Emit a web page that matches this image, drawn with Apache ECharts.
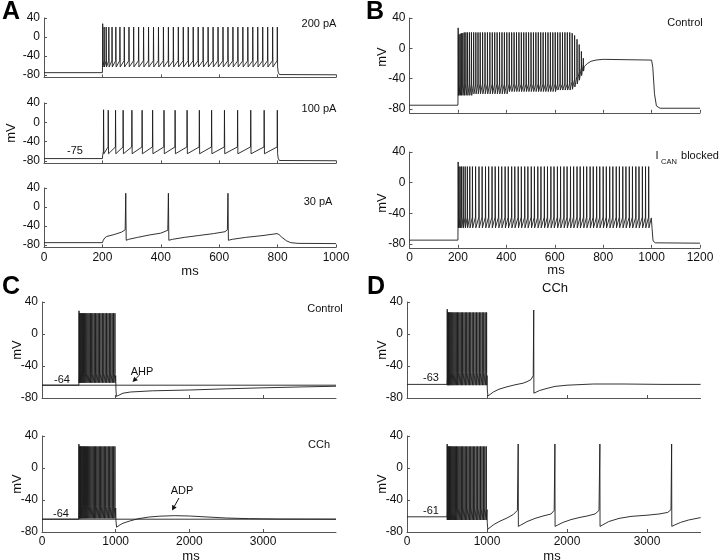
<!DOCTYPE html>
<html>
<head>
<meta charset="utf-8">
<script src="https://cdn.jsdelivr.net/npm/echarts@6/dist/echarts.min.js"></script>
<style>
html, body { margin: 0; padding: 0; background: #fff; }
#chart { width: 720px; height: 560px; }
</style>
</head>
<body>
<div id="chart"></div>
<script>
const FONT = '"Liberation Sans", Arial, Helvetica, sans-serif';
const INK = '#111';
const AXIS = '#555';

// tick values
const aXTicks = [0, 200, 400, 600, 800, 1000];
const bXTicks = [0, 200, 400, 600, 800, 1000, 1200];
const cdXTicks = [0, 1000, 2000, 3000];
const mvTicks = [-80, -40, 0, 40];

// ---------- A, 200 pA ----------
const a200Spikes = [201, 206, 213, 222, 233, 246, 260, 275, 291, 307, 324, 341, 358, 375, 392, 409, 426, 443, 460,
  477, 494, 511, 528, 545, 562, 579, 596, 613, 630, 647, 664, 681, 698, 715, 732, 749, 766, 783, 799];
const a200Before = [[0, -75], [200, -75]];
const a200After = [[800.5, -60], [802, -74], [806, -79], [1000, -79.5]];

// ---------- A, 100 pA ----------
const a100Spikes = [204, 220, 245, 271, 301, 336, 372, 411, 449, 490, 532, 574, 618, 663, 708, 754, 799];
const a100Before = [[0, -75], [200, -75], [201, -68]];
const a100After = [[800.5, -62], [802, -74], [806, -79], [1000, -79.5]];

// ---------- A, 30 pA (whole trace) ----------
const a30Trace = [[0, -75], [200, -75], [203, -70], [208, -65], [215, -62], [240, -58], [265, -53], [278, -48],
  [280, 29], [281.5, -70], [290, -68], [320, -64], [360, -59], [400, -55], [424, -49],
  [426, 29], [427.5, -70], [440, -68], [480, -64], [530, -60], [580, -56], [620, -52], [628, -48],
  [630, 29], [631.5, -70], [645, -68], [690, -64], [750, -60], [798, -56], [805, -58], [815, -64],
  [830, -71], [845, -75], [870, -76.5], [1000, -77]];

// ---------- B, control ----------
const b1Spikes = [201, 204, 209, 214, 220, 226, 233, 240, 248, 256, 265, 274, 283, 292, 302, 312, 322, 332, 342, 352,
  362, 372, 382, 392, 402, 412, 422, 432, 442, 452, 462, 472, 482, 492, 502, 512, 522, 532, 542, 552,
  562, 572, 582, 592, 602, 612, 622, 632, 642, 652, 662, 672, 682, 692, 701, 710, 718];
const b1Peaks = [27, 18, 19, 20, 20, 21, 21, 21, 21, 21, 21, 21, 21, 21, 21, 21, 21, 21, 21, 21,
  21, 21, 21, 21, 21, 21, 21, 21, 21, 21, 21, 21, 21, 21, 21, 21, 21, 21, 21, 21,
  21, 21, 21, 21, 21, 21, 21, 21, 21, 21, 21, 20, 17, 12, 5, -4, -13];
const b1Troughs = [-62, -62, -62, -62, -62, -62, -62, -62, -62, -62, -60, -60, -60, -60, -60, -60, -60, -60, -60, -60,
  -60, -60, -60, -60, -60, -57, -57, -57, -57, -57, -57, -57, -57, -57, -57, -57, -57, -57, -57, -57,
  -57, -57, -57, -57, -57, -55, -55, -55, -55, -55, -55, -54, -51, -47, -42, -36, -30];
const b1Thr = [-60, -47, -47, -47, -47, -47, -47, -47, -47, -47, -47, -47, -47, -47, -47, -47, -47, -47, -47, -47,
  -47, -47, -47, -47, -47, -47, -47, -47, -47, -47, -47, -47, -47, -47, -47, -47, -47, -47, -47, -47,
  -47, -47, -47, -47, -47, -47, -47, -47, -47, -47, -47, -44, -41, -37, -31, -25, -21];
const b1Before = [[0, -75], [200, -75]];
const b1After = [[722, -24], [735, -20], [750, -17], [770, -15.5], [800, -14.5], [1000, -15.5], [1005, -25],
  [1012, -60], [1020, -76], [1035, -79], [1200, -79]];

// ---------- B, I_CAN blocked ----------
const b2Spikes = [201, 204, 209, 215, 222, 230, 239, 249, 260, 273, 287, 300, 314, 327, 341, 354, 368, 381, 395, 408,
  422, 435, 449, 462, 476, 489, 503, 516, 530, 543, 557, 570, 584, 597, 611, 624, 638, 651, 665, 678,
  692, 705, 719, 732, 746, 759, 773, 786, 800, 813, 827, 840, 854, 867, 881, 894, 908, 921, 935, 948,
  962, 975, 988];
const b2Before = [[0, -75], [200, -75]];
const b2After = [[999, -46], [1002, -60], [1006, -76], [1015, -78.5], [1200, -79]];

// ---------- C, control ----------
const c1Spikes = [502, 509, 518, 528, 539, 551, 564, 578, 593, 608, 624, 640, 657, 674, 691, 709, 727, 745, 763, 781,
  800, 819, 838, 857, 876, 895, 914, 933, 952, 971, 990];
const c1Before = [[0, -64], [500, -64]];
const c1After = [[1000, -52], [1004, -70], [1010, -78], [1030, -76.5], [1100, -74], [1200, -72.5], [1500, -71],
  [2000, -70], [2500, -68.5], [3000, -67.3], [3500, -66.2], [3990, -65.3]];
const cRest = -64;

// ---------- C, CCh ----------
const c2Spikes = [501, 507, 514, 522, 531, 541, 552, 564, 577, 590, 604, 618, 633, 648, 663, 679, 695, 711, 727, 744,
  761, 778, 795, 812, 829, 846, 864, 882, 900, 918, 936, 954, 972, 990];
const c2Before = [[0, -64], [500, -64]];
const c2After = [[1000, -50], [1004, -66], [1012, -74], [1030, -73], [1060, -71], [1100, -69], [1200, -66],
  [1300, -63.5], [1450, -61.3], [1600, -60.2], [1800, -59.6], [2000, -60], [2200, -61], [2500, -62.5],
  [2800, -63.3], [3200, -63.8], [3990, -64]];

// ---------- D, CCh upper ----------
const d1Spikes = [503, 510, 518, 527, 537, 548, 560, 573, 587, 601, 616, 631, 647, 663, 679, 695, 712, 729, 746, 763,
  780, 797, 815, 833, 851, 869, 887, 905, 923, 941, 959, 977, 995];
const d1Before = [[0, -63], [500, -63]];
const d1After = [[1000, -52], [1004, -70], [1012, -77.5], [1035, -76], [1080, -72.5], [1150, -69], [1250, -66],
  [1350, -63.5], [1450, -61.5], [1500, -59.6], [1550, -57], [1578, -52], [1584, 30], [1586, -74], [1610, -73],
  [1660, -70.5], [1750, -68], [1850, -65.5], [2000, -64], [2330, -62.5], [2700, -62.5], [3200, -63], [3670, -63]];

// ---------- D, CCh lower ----------
const d2Spikes = [502, 508, 515, 523, 532, 542, 553, 565, 578, 591, 605, 619, 634, 649, 664, 680, 696, 712, 728, 745,
  762, 779, 796, 813, 830, 847, 865, 883, 901, 919, 937, 955, 973, 991];
const d2Before = [[0, -61], [500, -61]];
const d2After = [[1000, -52], [1003, -68], [1010, -76.5], [1030, -75], [1080, -71], [1150, -67], [1250, -62.5],
  [1330, -58], [1380, -53], [1390, 30], [1392, -73], [1420, -71.5], [1500, -67], [1600, -63], [1700, -60],
  [1800, -57.5], [1840, -53], [1849, 30], [1851, -73], [1880, -71.5], [1950, -68], [2050, -64.5], [2150, -62],
  [2250, -60], [2350, -57.5], [2400, -53], [2411, 30], [2413, -73], [2440, -71.5], [2520, -67], [2650, -63],
  [2800, -60.5], [3000, -59], [3150, -57.5], [3260, -55.5], [3300, -52], [3308, 30], [3310, -73], [3340, -71.5],
  [3420, -68], [3520, -65], [3670, -62]];

function pick(v, i) { return Array.isArray(v) ? v[i] : v; }

// spike train: ramp to threshold, spike to peak, fall to trough
function train(before, spikes, sp, after) {
  const pts = before.map(p => [p[0], p[1]]);
  spikes.forEach((t, i) => {
    const thr = i === 0 ? sp.thr0 : pick(sp.thr, i);
    const peak = i === 0 ? sp.first : pick(sp.peak, i);
    pts.push([t - 0.6, thr], [t, peak], [t + 1, pick(sp.trough, i)]);
  });
  return pts.concat(after);
}

const panels = [
  { left: 44, top: 18, width: 292, height: 59.4, xmax: 1000, xt: aXTicks, xl: false, ymin: -85 },
  { left: 44, top: 103, width: 292, height: 60.4, xmax: 1000, xt: aXTicks, xl: false, ymin: -85 },
  { left: 44, top: 188, width: 292, height: 59.4, xmax: 1000, xt: aXTicks, xl: true, ymin: -85 },
  { left: 409.5, top: 18, width: 290.5, height: 94.8, xmax: 1200, xt: bXTicks, xl: false, ymin: -85 },
  { left: 409.5, top: 152, width: 290.5, height: 95.8, xmax: 1200, xt: bXTicks, xl: true, ymin: -85 },
  { left: 42, top: 302, width: 294, height: 96, xmax: 3990, xt: cdXTicks, xl: false, ymin: -80 },
  { left: 42, top: 436, width: 294, height: 96, xmax: 3990, xt: cdXTicks, xl: true, ymin: -80 },
  { left: 407, top: 302, width: 293.6, height: 96, xmax: 3670, xt: cdXTicks, xl: false, ymin: -80 },
  { left: 407, top: 436, width: 293.6, height: 96, xmax: 3670, xt: cdXTicks, xl: true, ymin: -80 }
];

const traces = [
  { p: 0, data: train(a200Before, a200Spikes, { thr0: -60, thr: -50, first: 28, peak: 21, trough: -63 }, a200After) },
  { p: 1, data: train(a100Before, a100Spikes, { thr0: -60, thr: -51, first: 26, peak: 25, trough: -65 }, a100After) },
  { p: 2, data: a30Trace },
  { p: 3, data: train(b1Before, b1Spikes, { thr0: b1Thr[0], thr: b1Thr, first: b1Peaks[0], peak: b1Peaks, trough: b1Troughs }, b1After) },
  { p: 4, data: train(b2Before, b2Spikes, { thr0: -60, thr: -45, first: 27, peak: 21, trough: -59 }, b2After) },
  { p: 5, data: [[0, cRest], [3990, cRest]] },
  { p: 5, data: train(c1Before, c1Spikes, { thr0: -55, thr: -49, first: 29, peak: 26, trough: -61 }, c1After) },
  { p: 6, data: [[0, cRest], [3990, cRest]] },
  { p: 6, data: train(c2Before, c2Spikes, { thr0: -55, thr: -48, first: 30, peak: 27, trough: -63 }, c2After) },
  { p: 7, data: train(d1Before, d1Spikes, { thr0: -55, thr: -48, first: 31, peak: 27, trough: -64 }, d1After) },
  { p: 8, data: train(d2Before, d2Spikes, { thr0: -55, thr: -50, first: 30, peak: 27, trough: -65 }, d2After) }
];

function txt(text, x, y, size, extra) {
  return Object.assign({
    type: 'text', x: x, y: y, silent: true,
    style: { text: text, fontSize: size, fontFamily: FONT, fill: INK, align: 'center', verticalAlign: 'middle' }
  }, extra || {});
}
function bold(text, x, y) {
  const t = txt(text, x, y, 25);
  t.style.fontWeight = 'bold';
  t.style.fill = '#000';
  return t;
}
function vert(text, x, y) { return txt(text, x, y, 13, { rotation: Math.PI / 2 }); }
function arrow(x1, y1, x2, y2) {
  const a = Math.atan2(y2 - y1, x2 - x1), L = 5, W = 2.6;
  const bx = x2 - L * Math.cos(a), by = y2 - L * Math.sin(a);
  return [
    { type: 'line', silent: true, shape: { x1: x1, y1: y1, x2: bx, y2: by }, style: { stroke: INK, lineWidth: 1 } },
    { type: 'polygon', silent: true, shape: { points: [[x2, y2], [bx - W * Math.sin(a), by + W * Math.cos(a)], [bx + W * Math.sin(a), by - W * Math.cos(a)]] }, style: { fill: INK } }
  ];
}

const graphics = [
  bold('A', 11, 12), bold('B', 375, 12), bold('C', 11, 287), bold('D', 376, 287),
  txt('200 pA', 319, 24, 11), txt('100 pA', 319, 109, 11), txt('30 pA', 318, 202, 11), txt('-75', 75, 151, 11),
  vert('mV', 11, 133), txt('ms', 190, 271, 13),
  txt('Control', 685, 23, 11),
  txt('I', 657, 156, 11), txt('CAN', 669, 162, 7.5), txt('blocked', 700, 156, 11),
  vert('mV', 382, 57), vert('mV', 382, 203), txt('ms', 556, 270, 13),
  txt('Control', 325, 309, 11), txt('-64', 62, 380, 11), txt('AHP', 142, 372, 11),
  txt('CCh', 319, 445, 11), txt('-64', 61, 514, 11), txt('ADP', 182, 491, 11),
  vert('mV', 17, 350), vert('mV', 17, 484), txt('ms', 191, 556, 13),
  txt('CCh', 555, 288, 13), txt('-63', 431, 378, 11), txt('-61', 431, 511, 11),
  vert('mV', 382, 350), vert('mV', 382, 484), txt('ms', 552, 556, 13)
].concat(arrow(139.5, 375, 132.5, 382)).concat(arrow(179, 498, 172, 510.5));

const plain = v => String(v);

const chart = echarts.init(document.getElementById('chart'), null, { renderer: 'canvas' });
chart.setOption({
  animation: false,
  backgroundColor: '#fff',
  grid: panels.map(p => ({ left: p.left, top: p.top, width: p.width, height: p.height, containLabel: false, outerBoundsMode: 'none' })),
  xAxis: panels.map((p, i) => ({
    type: 'value', gridIndex: i, min: 0, max: p.xmax,
    axisLine: { show: true, onZero: false, lineStyle: { color: AXIS, width: 1 } },
    axisTick: { show: true, inside: true, length: 3, customValues: p.xt, lineStyle: { color: AXIS } },
    axisLabel: { show: p.xl, customValues: p.xt, formatter: plain, color: INK, fontSize: 12, fontFamily: FONT, margin: 4 },
    splitLine: { show: false }
  })),
  yAxis: panels.map((p, i) => ({
    type: 'value', gridIndex: i, min: p.ymin, max: 40,
    axisLine: { show: true, onZero: false, lineStyle: { color: AXIS, width: 1 } },
    axisTick: { show: true, inside: true, length: 3, customValues: mvTicks, lineStyle: { color: AXIS } },
    axisLabel: { show: true, customValues: mvTicks, formatter: plain, color: INK, fontSize: 12, fontFamily: FONT, margin: 4 },
    splitLine: { show: false }
  })),
  series: traces.map(t => ({
    type: 'line', xAxisIndex: t.p, yAxisIndex: t.p, data: t.data,
    symbol: 'none', showSymbol: false, silent: true,
    lineStyle: { color: '#1c1c1c', width: 0.9 }
  })),
  graphic: graphics
});
window.addEventListener('resize', () => chart.resize());
</script>
</body>
</html>
